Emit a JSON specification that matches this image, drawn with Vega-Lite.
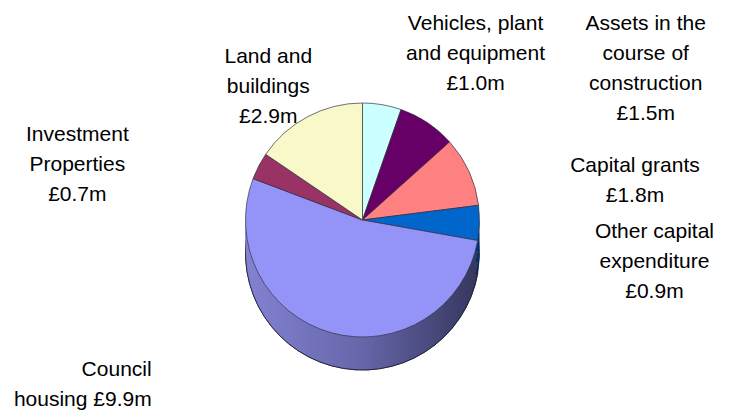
{
  "$schema": "https://vega.github.io/schema/vega-lite/v6.json",
  "width": 733,
  "height": 416,
  "autosize": {"type": "fit", "contains": "padding"},
  "padding": {"top": 2, "right": 8, "left": 0, "bottom": 0},
  "background": "white",
  "config": {"view": {"stroke": null}, "font": "Liberation Sans"},
  "data": {
    "values": [
      {"idx": 1, "category": "Vehicles, plant and equipment", "label": "Vehicles, plant\nand equipment\n£1.0m", "value": 1.0},
      {"idx": 2, "category": "Assets in the course of construction", "label": "Assets in the\ncourse of\nconstruction\n£1.5m", "value": 1.5},
      {"idx": 3, "category": "Capital grants", "label": "Capital grants\n£1.8m", "value": 1.8},
      {"idx": 4, "category": "Other capital expenditure", "label": "Other capital\nexpenditure\n£0.9m", "value": 0.9},
      {"idx": 5, "category": "Council housing", "label": "Council\nhousing £9.9m", "value": 9.9},
      {"idx": 6, "category": "Investment Properties", "label": "Investment\nProperties\n£0.7m", "value": 0.7},
      {"idx": 7, "category": "Land and buildings", "label": "Land and\nbuildings\n£2.9m", "value": 2.9}
    ]
  },
  "encoding": {
    "theta": {"field": "value", "type": "quantitative", "stack": true},
    "order": {"field": "idx", "type": "quantitative"}
  },
  "layer": [
    {
      "mark": {"type": "arc", "outerRadius": 117, "yOffset": 33, "stroke": "#1a1a2e", "strokeWidth": 0.8},
      "encoding": {
        "color": {
          "field": "category", "type": "nominal", "legend": null,
          "scale": {
            "domain": ["Vehicles, plant and equipment", "Assets in the course of construction", "Capital grants", "Other capital expenditure", "Council housing", "Investment Properties", "Land and buildings"],
            "range": ["#8FB3B3", "#400040", "#B35A5A", "#00336E", "#55559A", "#6B2447", "#B3B38F"]
          }
        }
      }
    },
    {
      "mark": {"type": "arc", "outerRadius": 117, "yOffset": 22},
      "encoding": {
        "color": {
          "field": "category", "type": "nominal", "legend": null,
          "scale": {
            "domain": ["Vehicles, plant and equipment", "Assets in the course of construction", "Capital grants", "Other capital expenditure", "Council housing", "Investment Properties", "Land and buildings"],
            "range": ["#8FB3B3", "#400040", "#B35A5A", "#00336E", "#55559A", "#6B2447", "#B3B38F"]
          }
        }
      }
    },
    {
      "mark": {"type": "arc", "outerRadius": 117, "yOffset": 11},
      "encoding": {
        "color": {
          "field": "category", "type": "nominal", "legend": null,
          "scale": {
            "domain": ["Vehicles, plant and equipment", "Assets in the course of construction", "Capital grants", "Other capital expenditure", "Council housing", "Investment Properties", "Land and buildings"],
            "range": ["#8FB3B3", "#400040", "#B35A5A", "#00336E", "#55559A", "#6B2447", "#B3B38F"]
          }
        }
      }
    },
    {
      "mark": {
        "type": "arc", "outerRadius": 117, "yOffset": 33,
        "fill": {"gradient": "linear", "x1": 0, "y1": 0, "x2": 1, "y2": 0,
          "stops": [{"offset": 0, "color": "#8282D2"}, {"offset": 0.5, "color": "#6666AA"}, {"offset": 1, "color": "#36365E"}]},
        "stroke": "#1a1a2e", "strokeWidth": 0.8
      },
      "encoding": {
        "fillOpacity": {"condition": {"test": "datum.idx == 5", "value": 1}, "value": 0},
        "strokeOpacity": {"condition": {"test": "datum.idx == 5", "value": 1}, "value": 0}
      }
    },
    {
      "mark": {
        "type": "arc", "outerRadius": 117, "yOffset": 22,
        "fill": {"gradient": "linear", "x1": 0, "y1": 0, "x2": 1, "y2": 0,
          "stops": [{"offset": 0, "color": "#8282D2"}, {"offset": 0.5, "color": "#6666AA"}, {"offset": 1, "color": "#36365E"}]}
      },
      "encoding": {
        "fillOpacity": {"condition": {"test": "datum.idx == 5", "value": 1}, "value": 0}
      }
    },
    {
      "mark": {
        "type": "arc", "outerRadius": 117, "yOffset": 11,
        "fill": {"gradient": "linear", "x1": 0, "y1": 0, "x2": 1, "y2": 0,
          "stops": [{"offset": 0, "color": "#8282D2"}, {"offset": 0.5, "color": "#6666AA"}, {"offset": 1, "color": "#36365E"}]}
      },
      "encoding": {
        "fillOpacity": {"condition": {"test": "datum.idx == 5", "value": 1}, "value": 0}
      }
    },
    {
      "mark": {"type": "arc", "outerRadius": 117, "stroke": "#333344", "strokeWidth": 0.7},
      "encoding": {
        "color": {
          "field": "category", "type": "nominal", "legend": null,
          "scale": {
            "domain": ["Vehicles, plant and equipment", "Assets in the course of construction", "Capital grants", "Other capital expenditure", "Council housing", "Investment Properties", "Land and buildings"],
            "range": ["#CCFFFF", "#660066", "#FF8080", "#0066CC", "#9494F8", "#993366", "#F8F8C8"]
          }
        }
      }
    },
    {
      "mark": {"type": "text", "radius": 150, "dx": 88, "dy": -48, "fontSize": 21, "lineBreak": "\n", "lineHeight": 30, "color": "#000"},
      "encoding": {"text": {"condition": {"test": "datum.idx == 1", "field": "label"}, "value": ""}}
    },
    {
      "mark": {"type": "text", "radius": 150, "dx": 200, "dy": -71, "fontSize": 21, "lineBreak": "\n", "lineHeight": 30, "color": "#000"},
      "encoding": {"text": {"condition": {"test": "datum.idx == 2", "field": "label"}, "value": ""}}
    },
    {
      "mark": {"type": "text", "radius": 150, "dx": 136, "dy": 8, "fontSize": 21, "lineBreak": "\n", "lineHeight": 30, "color": "#000"},
      "encoding": {"text": {"condition": {"test": "datum.idx == 3", "field": "label"}, "value": ""}}
    },
    {
      "mark": {"type": "text", "radius": 150, "dx": 142, "dy": 8, "fontSize": 21, "lineBreak": "\n", "lineHeight": 30, "color": "#000"},
      "encoding": {"text": {"condition": {"test": "datum.idx == 4", "field": "label"}, "value": ""}}
    },
    {
      "mark": {"type": "text", "radius": 150, "dx": -171, "dy": 5, "align": "right", "fontSize": 21, "lineBreak": "\n", "lineHeight": 30, "color": "#000"},
      "encoding": {"text": {"condition": {"test": "datum.idx == 5", "field": "label"}, "value": ""}}
    },
    {
      "mark": {"type": "text", "radius": 150, "dx": -152, "dy": -16, "fontSize": 21, "lineBreak": "\n", "lineHeight": 30, "color": "#000"},
      "encoding": {"text": {"condition": {"test": "datum.idx == 6", "field": "label"}, "value": ""}}
    },
    {
      "mark": {"type": "text", "radius": 150, "dx": -24, "dy": -30, "fontSize": 21, "lineBreak": "\n", "lineHeight": 30, "color": "#000"},
      "encoding": {"text": {"condition": {"test": "datum.idx == 7", "field": "label"}, "value": ""}}
    }
  ],
  "resolve": {"scale": {"color": "independent"}}
}
